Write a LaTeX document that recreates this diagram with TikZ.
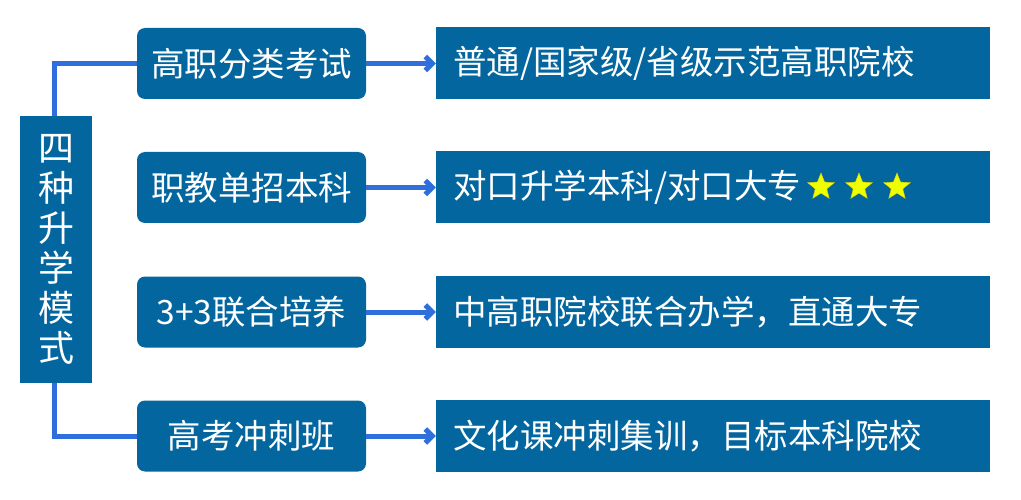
\documentclass[tikz,border=0pt]{standalone}
\usepackage{fontspec}
\setmainfont{Noto Sans CJK SC}
\usetikzlibrary{arrows.meta,shapes.geometric}
\definecolor{boxblue}{HTML}{03669F}
\definecolor{lineblue}{HTML}{2E6FDB}
\definecolor{staryellow}{HTML}{EEFF00}
\begin{document}
\begin{tikzpicture}[x=1pt,y=-1pt,
	modebox/.style={fill=boxblue, text=white, minimum width=229pt, minimum height=71pt, rounded corners=8pt, font=\fontsize{33.5}{40}\selectfont, inner sep=0pt},
	goalbox/.style={fill=boxblue, text=white, minimum width=554pt, minimum height=72pt, text width=520pt, align=left, inner xsep=17pt, font=\fontsize{33.5}{40}\selectfont},
	link/.style={lineblue, line width=5pt},
	goal star/.style={star, star points=5, star point ratio=2.3, fill=staryellow, draw=yellow!70!olive, line width=0.4pt, minimum size=28pt, inner sep=0pt}]
	
	\useasboundingbox (0,0) rectangle (1021,500);
	
	% left title box
	\node[fill=boxblue, text=white, minimum width=72pt, minimum height=267pt, align=center, font=\fontsize{36}{40}\selectfont] (mode) at (56,249.5) {四\\种\\升\\学\\模\\式};
	
	% middle boxes
	\node[modebox] (m1) at (251.5,63.5) {高职分类考试};
	\node[modebox] (m2) at (251.5,187.5) {职教单招本科};
	\node[modebox] (m3) at (251.5,312) {3+3联合培养};
	\node[modebox] (m4) at (251.5,436) {高考冲刺班};
	
	% right boxes
	\node[goalbox] (r1) at (713,63.5) {普通/国家级/省级示范高职院校};
	\node[goalbox] (r2) at (713,187.5) {对口升学本科/对口大专};
	\node[goalbox] (r3) at (713,312) {中高职院校联合办学，直通大专};
	\node[goalbox] (r4) at (713,436) {文化课冲刺集训，目标本科院校};
	
	\node[goal star] (s1) at (821,187) {};
	\node[goal star] (s2) at (859,187) {};
	\node[goal star] (s3) at (897,187) {};
	
	\draw[link] ([xshift=-2pt]mode.north) |- (m1.west);
	\draw[link] ([xshift=-2pt]mode.south) |- (m4.west);
	\foreach \i in {1,...,4}
		\draw[link, -{Straight Barb[length=7pt,width=14pt]}] (m\i.east) -- (r\i.west);
	
\end{tikzpicture}
\end{document}
